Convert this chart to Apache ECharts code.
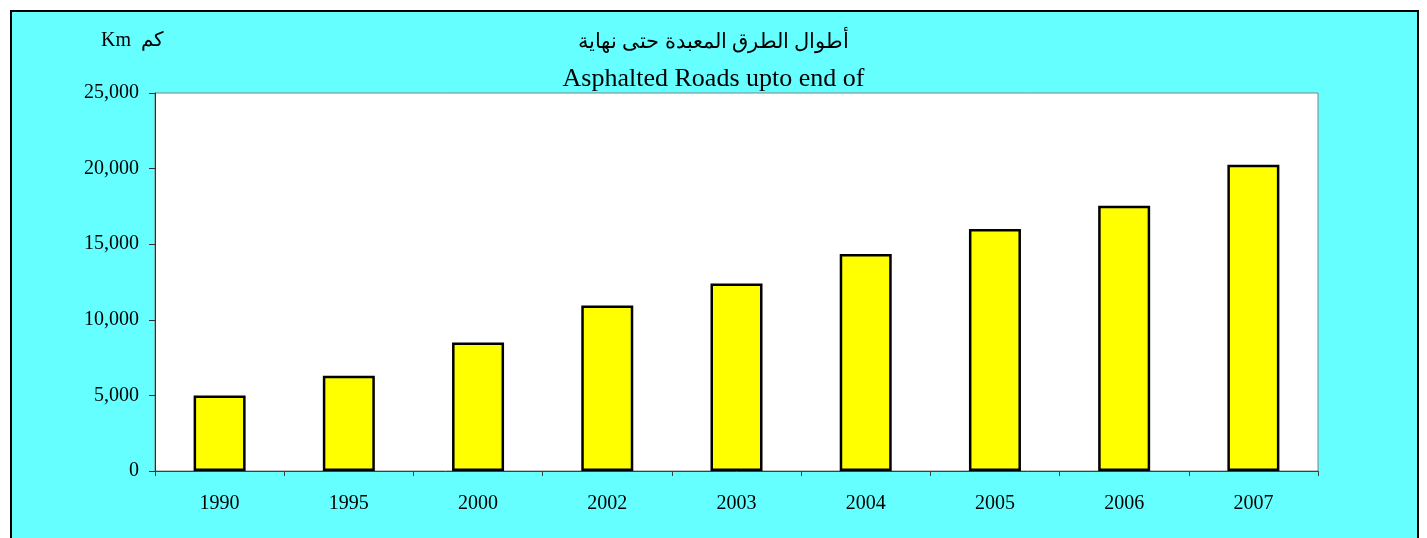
<!DOCTYPE html>
<html>

<head>
	<meta charset="UTF-8">
	<script src="https://cdn.jsdelivr.net/npm/echarts@6/dist/echarts.min.js"></script>
	<style>
		body {
			margin: 0;
			padding: 0;
			background: #ffffff;
		}

		#chart {
			width: 1427px;
			height: 538px;
		}
	</style>
</head>

<body>
	<div id="chart"></div>
	<script>
		// 数据
		var years = ['1990', '1995', '2000', '2002', '2003', '2004', '2005', '2006', '2007'];
		var roadKm = [5000, 6300, 8500, 10950, 12400, 14350, 16000, 17550, 20250];
		var yTicks = [0, 5000, 10000, 15000, 20000, 25000];

		var titleAr = 'أطوال الطرق المعبدة حتى نهاية';
		var titleEn = 'Asphalted Roads upto end of';
		var unitText = 'Km  كم';

		var serif = '"Liberation Serif", "DejaVu Serif", serif';

		var chart = echarts.init(document.getElementById('chart'));
		chart.setOption({
			backgroundColor: '#ffffff',
			animation: false,
			graphic: [{
				type: 'rect',
				z: -10,
				shape: { x: 11, y: 11, width: 1407, height: 540 },
				style: { fill: '#66ffff', stroke: '#000000', lineWidth: 2 }
			}, {
				type: 'text',
				left: 'center',
				top: 32,
				style: { text: titleAr, font: '21px ' + serif, fill: '#000000' }
			}, {
				type: 'text',
				left: 'center',
				top: 66,
				style: { text: titleEn, font: '26px ' + serif, fill: '#000000' }
			}, {
				type: 'text',
				left: 101,
				top: 31,
				style: { text: unitText, font: '20px ' + serif, fill: '#000000' }
			}],
			grid: {
				left: 155,
				right: 109,
				top: 93,
				bottom: 67,
				show: true,
				backgroundColor: '#ffffff',
				borderColor: '#808080',
				borderWidth: 1
			},
			xAxis: {
				type: 'category',
				data: years,
				axisLine: { lineStyle: { color: '#404040', width: 1 } },
				axisTick: { show: true, length: 5, lineStyle: { color: '#404040' } },
				axisLabel: { color: '#000000', fontFamily: serif, fontSize: 20, margin: 23 }
			},
			yAxis: {
				type: 'value',
				min: 0,
				max: yTicks[yTicks.length - 1],
				interval: yTicks[1] - yTicks[0],
				splitLine: { show: false },
				axisLine: { show: true, lineStyle: { color: '#303030', width: 1 } },
				axisTick: { show: true, length: 6, lineStyle: { color: '#303030' } },
				axisLabel: {
					color: '#000000',
					fontFamily: serif,
					fontSize: 20,
					margin: 16,
					formatter: function (v) {
						return v.toLocaleString('en-US');
					}
				}
			},
			series: [{
				type: 'bar',
				data: roadKm,
				barWidth: 52,
				itemStyle: {
					color: '#ffff00',
					borderColor: '#000000',
					borderWidth: 2.5
				}
			}]
		});
	</script>
</body>

</html>
